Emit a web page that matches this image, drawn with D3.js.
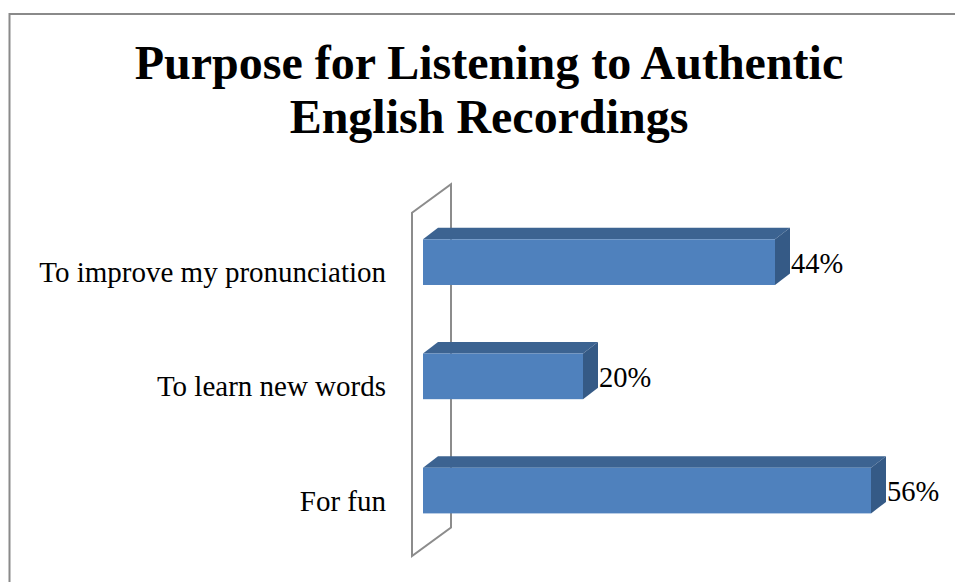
<!DOCTYPE html>
<html>
<head>
<meta charset="utf-8">
<script src="https://cdn.jsdelivr.net/npm/d3@7"></script>
<style>
  html, body { margin: 0; padding: 0; background: #fff; }
  svg { display: block; }
  text { font-family: "Liberation Serif", "Times New Roman", serif; fill: #000; }
</style>
</head>
<body>
<script>
// Survey answers: purpose for listening to authentic English recordings
const categories = ["To improve my pronunciation", "To learn new words", "For fun"];
const shares = [0.44, 0.20, 0.56];
const titleLines = ["Purpose for Listening to Authentic", "English Recordings"];

const W = 955, H = 582;
const svg = d3.select("body").append("svg").attr("width", W).attr("height", H);

// chart frame (right and bottom edges fall outside the canvas)
svg.append("path")
  .attr("d", `M9.5,${H + 5} V14 H${W + 5}`)
  .attr("fill", "none").attr("stroke", "#8a8a8a").attr("stroke-width", 2);

// title
const title = svg.append("text")
  .attr("text-anchor", "middle")
  .style("font-weight", "bold")
  .style("font-size", "48px");
title.selectAll("tspan").data(titleLines).join("tspan")
  .attr("x", 489)
  .attr("y", (d, i) => 79 + i * 54)
  .text(d => d);

// scales
const x = d3.scaleLinear().domain([0, 0.6]).range([423, 903]);
const y = d3.scaleBand().domain(categories).range([182.2, 570.5])
  .paddingInner(0.6).paddingOuter(0.5);

// 3D depth offsets
const barDx = 15, barDy = -11.5;
const wallDx = 39, wallDy = -28.5;

// side wall (category axis plane)
const wx = 412, wTop = 212.7, wBot = 556;
svg.append("path")
  .attr("d", `M${wx},${wTop} L${wx + wallDx},${wTop + wallDy} L${wx + wallDx},${wBot + wallDy} L${wx},${wBot} Z`)
  .attr("fill", "none").attr("stroke", "#8c8c8c").attr("stroke-width", 2)
  .attr("stroke-linejoin", "miter");

const rows = categories.map((c, i) => ({ c, v: shares[i] }));
const bars = svg.selectAll("g.bar").data(rows).join("g").attr("class", "bar");

// top face
bars.append("path")
  .attr("fill", "#3c6391")
  .attr("d", d => {
    const x0 = x(0), x1 = x(d.v), t = y(d.c);
    return `M${x0},${t} L${x0 + barDx},${t + barDy} L${x1 + barDx},${t + barDy} L${x1},${t} Z`;
  });
// side face
bars.append("path")
  .attr("fill", "#355a86")
  .attr("d", d => {
    const x1 = x(d.v), t = y(d.c), b = t + y.bandwidth();
    return `M${x1},${t} L${x1 + barDx},${t + barDy} L${x1 + barDx},${b + barDy} L${x1},${b} Z`;
  });
// front face
bars.append("rect")
  .attr("fill", "#4f81bd")
  .attr("x", x(0))
  .attr("y", d => y(d.c))
  .attr("width", d => x(d.v) - x(0))
  .attr("height", y.bandwidth());

// value labels
bars.append("text")
  .style("font-size", "28.5px")
  .attr("x", d => x(d.v) + barDx + 1)
  .attr("y", d => y(d.c) + y.bandwidth() / 2 + 10.5)
  .text(d => d3.format(".0%")(d.v));

// category labels
svg.selectAll("text.cat").data(categories).join("text")
  .attr("class", "cat")
  .attr("text-anchor", "end")
  .style("font-size", "29px")
  .attr("x", 386)
  .attr("y", d => y(d) + y.bandwidth() / 2 + 20)
  .text(d => d);
</script>
</body>
</html>
